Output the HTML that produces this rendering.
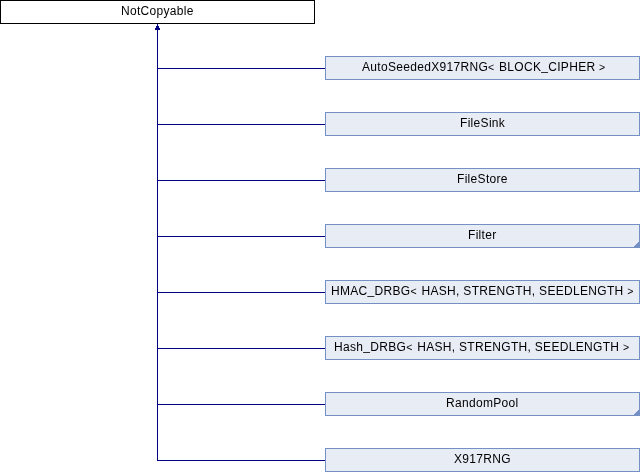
<!DOCTYPE html>
<html><head><meta charset="utf-8"><style>
html,body{margin:0;padding:0;background:#fff;width:640px;height:472px;overflow:hidden;position:relative}
.box{position:absolute;box-sizing:border-box;width:315px;height:24px;text-align:center;font-family:"Liberation Sans",sans-serif;font-size:12px;letter-spacing:0.31px;line-height:21px;color:#000;white-space:pre}
.box span,.p span{display:inline-block;will-change:transform}
.a{font-style:normal;font-size:10.5px;position:relative;top:-0.5px;margin-right:0.9px}
.u{font-style:normal;position:relative;top:-1px}
.p{left:0;top:0;border:1px solid #000;background:#fff}
.c{left:325px;border:1px solid #7590c4;background:#e8ecf5}
.hl{position:absolute;left:157px;width:168px;height:1px;background:#000080}
.vl{position:absolute;left:157px;top:24px;width:1px;height:437px;background:#000080}
.tri{position:absolute;right:0;bottom:0;width:5px;height:5px;display:block}
</style></head><body>
<div class="box p"><span>NotCopyable</span></div>
<div class="vl"></div>
<svg style="position:absolute;left:154px;top:24px" width="7" height="7"><path d="M3 0h1v2h1v2h1v2H1V4h1V2h1z" fill="#000080"/></svg>
<div class="hl" style="top:68px"></div><div class="box c" style="top:56px"><span style="position:relative;left:1.5px">AutoSeededX917RNG<i class="a">&lt;</i> BLOCK<i class="u">_</i>CIPHER <i class="a">&gt;</i></span></div><div class="hl" style="top:124px"></div><div class="box c" style="top:112px"><span>FileSink</span></div><div class="hl" style="top:180px"></div><div class="box c" style="top:168px"><span>FileStore</span></div><div class="hl" style="top:236px"></div><div class="box c" style="top:224px"><span>Filter</span><svg class="tri" width="5" height="5"><path d="M4 0h1v5H0V4h1V3h1V2h1V1h1z" fill="#7590c4"/></svg></div><div class="hl" style="top:292px"></div><div class="box c" style="top:280px"><span>HMAC<i class="u">_</i>DRBG<i class="a">&lt;</i> HASH, STRENGTH, SEEDLENGTH <i class="a">&gt;</i></span></div><div class="hl" style="top:348px"></div><div class="box c" style="top:336px"><span>Hash<i class="u">_</i>DRBG<i class="a">&lt;</i> HASH, STRENGTH, SEEDLENGTH <i class="a">&gt;</i></span></div><div class="hl" style="top:404px"></div><div class="box c" style="top:392px"><span>RandomPool</span><svg class="tri" width="5" height="5"><path d="M4 0h1v5H0V4h1V3h1V2h1V1h1z" fill="#7590c4"/></svg></div><div class="hl" style="top:460px"></div><div class="box c" style="top:448px"><span>X917RNG</span></div>
</body></html>
